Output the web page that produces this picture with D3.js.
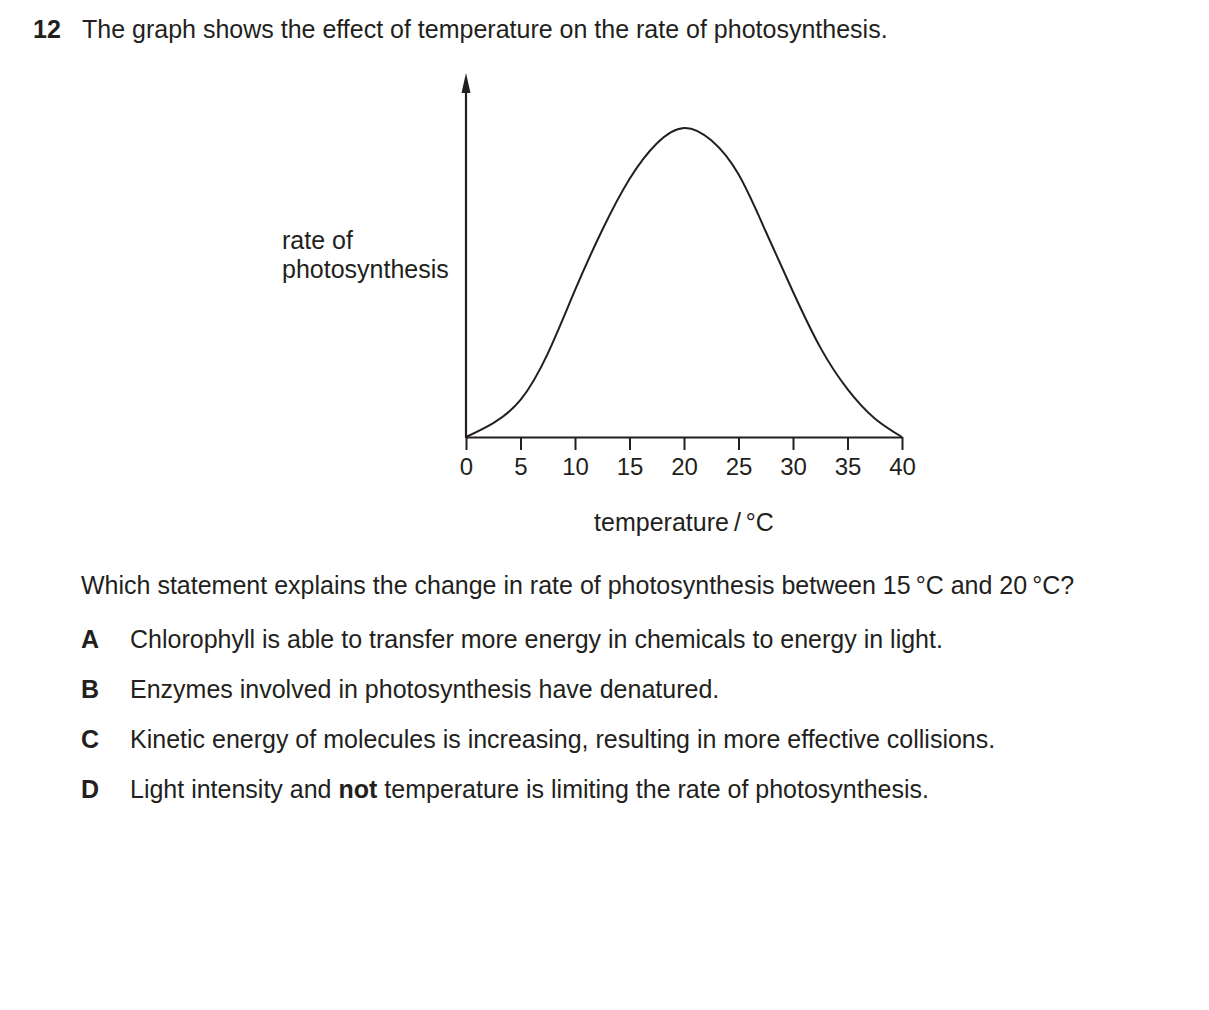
<!DOCTYPE html>
<html>
<head>
<meta charset="utf-8">
<script src="https://cdn.jsdelivr.net/npm/d3@7"></script>
<style>
  html, body { margin: 0; padding: 0; background: #fff; }
  svg { display: block; }
  text { font-family: "Liberation Sans", Arial, sans-serif; fill: #231f20; }
</style>
</head>
<body>
<svg id="chart" width="1209" height="1010"></svg>
<script>
// ---- data ----
const temperatures = [0, 2.5, 5, 7.5, 10, 12.5, 15, 17.5, 20, 22.5, 25, 27.5, 30, 32.5, 35, 37.5, 40];
const rates        = [0, 4.5, 12, 27, 47.5, 67, 83.5, 95, 100, 96, 85, 66.5, 47, 29, 15.5, 6, 0];
const xTicks = [0, 5, 10, 15, 20, 25, 30, 35, 40];
const xLabel = "temperature\u2009/\u2009°C";
const yLabelLines = ["rate of", "photosynthesis"];
const questionNumber = "12";
const questionStem = "The graph shows the effect of temperature on the rate of photosynthesis.";
const questionText = "Which statement explains the change in rate of photosynthesis between 15\u2009°C and 20\u2009°C?";
const optionLetters = ["A", "B", "C", "D"];
const optionTexts = [
  [{t: "Chlorophyll is able to transfer more energy in chemicals to energy in light."}],
  [{t: "Enzymes involved in photosynthesis have denatured."}],
  [{t: "Kinetic energy of molecules is increasing, resulting in more effective collisions."}],
  [{t: "Light intensity and "}, {t: "not", b: true}, {t: " temperature is limiting the rate of photosynthesis."}]
];

// ---- layout ----
const svg = d3.select("#chart");
const ink = "#231f20";
const fs = 25;

const x = d3.scaleLinear().domain([0, 40]).range([466, 902]);
const y = d3.scaleLinear().domain([0, 100]).range([437, 128]);
const yTopPx = 73;

// header
svg.append("text").attr("x", 33).attr("y", 38).attr("font-size", fs).attr("font-weight", "bold").text(questionNumber);
svg.append("text").attr("x", 82).attr("y", 38).attr("font-size", fs).text(questionStem);

// x axis
const xAxis = d3.axisBottom(x).tickValues(xTicks).tickSize(13).tickPadding(8).tickSizeOuter(0);
const gx = svg.append("g").attr("transform", `translate(0,${y(0)})`).call(xAxis);
gx.select(".domain").attr("stroke", ink).attr("stroke-width", 2.2);
gx.selectAll(".tick line").attr("stroke", ink).attr("stroke-width", 2);
gx.selectAll(".tick text").attr("font-size", 24).attr("fill", ink)
  .attr("font-family", "Liberation Sans, Arial, sans-serif");

// y axis (line with arrow)
svg.append("line")
  .attr("x1", x(0)).attr("x2", x(0))
  .attr("y1", y(0) + 1).attr("y2", yTopPx + 14)
  .attr("stroke", ink).attr("stroke-width", 2.2);
svg.append("path")
  .attr("d", `M${x(0)},${yTopPx} L${x(0) - 4.5},${yTopPx + 20} L${x(0) + 4.5},${yTopPx + 20} Z`)
  .attr("fill", ink);

// curve
const data = temperatures.map((t, i) => ({t, r: rates[i]}));
const line = d3.line().x(d => x(d.t)).y(d => y(d.r)).curve(d3.curveNatural);
svg.append("path").datum(data).attr("d", line)
  .attr("fill", "none").attr("stroke", ink).attr("stroke-width", 2);

// axis labels
yLabelLines.forEach((s, i) => {
  svg.append("text").attr("x", 282).attr("y", 249 + i * 29).attr("font-size", fs).text(s);
});
svg.append("text").attr("x", 684).attr("y", 531).attr("text-anchor", "middle").attr("font-size", fs).text(xLabel);

// question
svg.append("text").attr("x", 81).attr("y", 594).attr("font-size", fs).text(questionText);
optionLetters.forEach((L, i) => {
  const yy = 648 + i * 50;
  svg.append("text").attr("x", 81).attr("y", yy).attr("font-size", fs).attr("font-weight", "bold").text(L);
  const t = svg.append("text").attr("x", 130).attr("y", yy).attr("font-size", fs);
  optionTexts[i].forEach(seg => {
    t.append("tspan").attr("font-weight", seg.b ? "bold" : null).text(seg.t);
  });
});
</script>
</body>
</html>
